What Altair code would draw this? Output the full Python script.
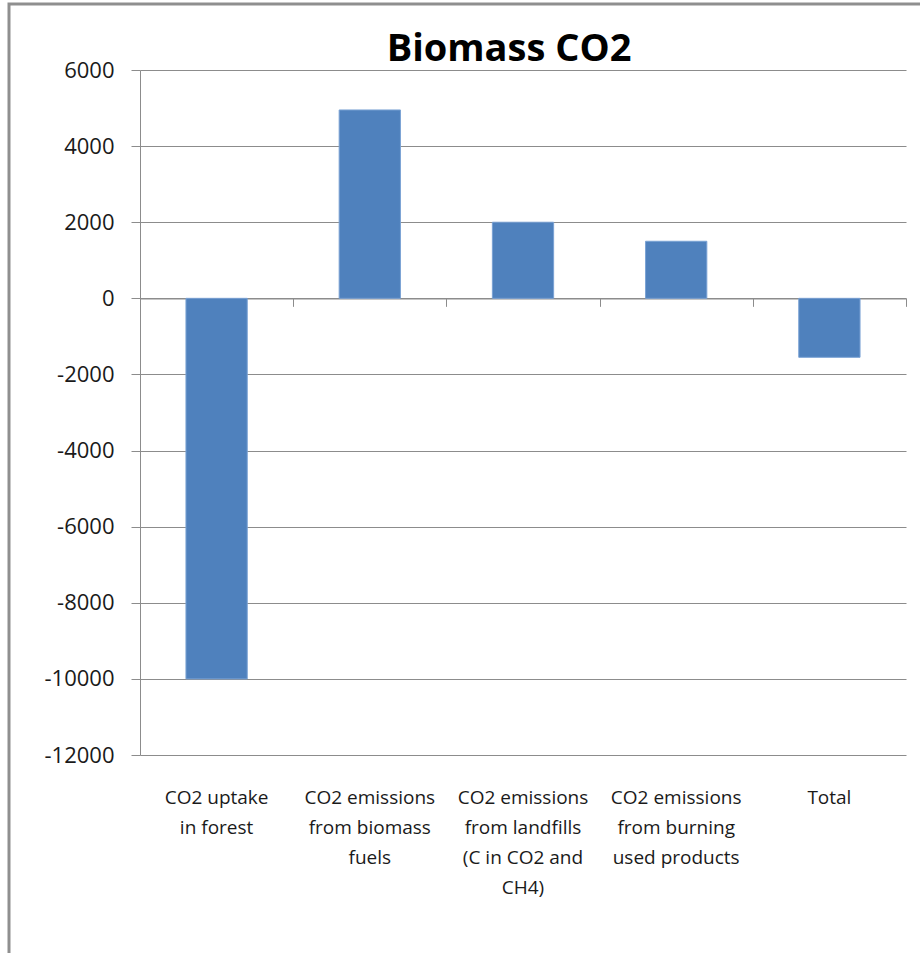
import altair as alt
import pandas as pd

# Chart values
categories = [
    "CO2 uptake\nin forest",
    "CO2 emissions\nfrom biomass\nfuels",
    "CO2 emissions\nfrom landfills\n(C in CO2 and\nCH4)",
    "CO2 emissions\nfrom burning\nused products",
    "Total",
]
values = [-10000, 4950, 2000, 1500, -1550]
y_ticks = [-12000, -10000, -8000, -6000, -4000, -2000, 0, 2000, 4000, 6000]

df = pd.DataFrame({"category": categories, "value": values})

W, H = 766, 685
Y_MIN, Y_MAX = -12000, 6000
# pixel distance from the bottom of the plot up to the zero line
zero_offset = -H * (0 - Y_MIN) / (Y_MAX - Y_MIN)

GRAY = "#8c8c8c"
FONT = "Open Sans"

y_scale = alt.Scale(domain=[Y_MIN, Y_MAX], nice=False, zero=True)

y_enc = alt.Y(
    "value:Q",
    scale=y_scale,
    axis=alt.Axis(
        values=y_ticks,
        title=None,
        labelExpr="'' + datum.value",
        tickSize=9,
        tickColor=GRAY,
        domainColor=GRAY,
        gridColor=GRAY,
        gridWidth=1.2,
        labelFont=FONT,
        labelFontSize=22,
        labelColor="#1a1a1a",
        labelPadding=17,
    ),
)

bars = alt.Chart(df).mark_bar(
    color="#4F81BD", stroke="#7AA2D4", strokeWidth=1
).encode(
    x=alt.X(
        "category:N",
        sort=None,
        scale=alt.Scale(paddingInner=0.6, paddingOuter=0.3),
        axis=alt.Axis(
            orient="bottom",
            title=None,
            domain=False,
            ticks=False,
            grid=False,
            labelAngle=0,
            labelExpr="split(datum.label, '\\n')",
            labelFont=FONT,
            labelFontSize=19,
            labelLineHeight=30,
            labelBaseline="top",
            labelPadding=33,
            labelColor="#1a1a1a",
        ),
    ),
    y=y_enc,
)

# category axis drawn along the zero line, with ticks between categories
zero_axis = alt.Chart(df).mark_bar(opacity=0).encode(
    x=alt.X(
        "category:N",
        sort=None,
        scale=alt.Scale(paddingInner=0, paddingOuter=0),
        axis=alt.Axis(
            orient="bottom",
            title=None,
            labels=False,
            grid=False,
            offset=zero_offset,
            tickBand="extent",
            tickSize=8,
            tickColor=GRAY,
            domainColor=GRAY,
            domainWidth=1.2,
        ),
    ),
    y=y_enc,
)

# outer border of the chart
FRAME_TOP = -66
frame = alt.Chart(pd.DataFrame({"k": [0]})).mark_rect(
    fillOpacity=0, stroke="#8f8f8f", strokeWidth=3
).encode(
    x=alt.value(-131),
    x2=alt.value(W + 60),
    y=alt.value(FRAME_TOP),
    y2=alt.value(H + 260),
)

chart = (
    alt.layer(zero_axis, bars, frame)
    .resolve_scale(x="independent")
    .resolve_axis(x="independent")
    .properties(
        width=W,
        height=H,
        autosize=alt.AutoSizeParams(type="none"),
        padding={"left": 140, "top": 70, "right": 14, "bottom": 198},
        background="white",
        title=alt.TitleParams(
            "Biomass CO2",
            font=FONT,
            fontSize=38,
            fontWeight="bold",
            color="black",
            anchor="middle",
            baseline="alphabetic",
            dx=-14,
            offset=FRAME_TOP - 30,
        ),
    )
    .configure_view(stroke=None)
)

chart.save("out.html", embed_options={"renderer": "svg", "actions": False})
